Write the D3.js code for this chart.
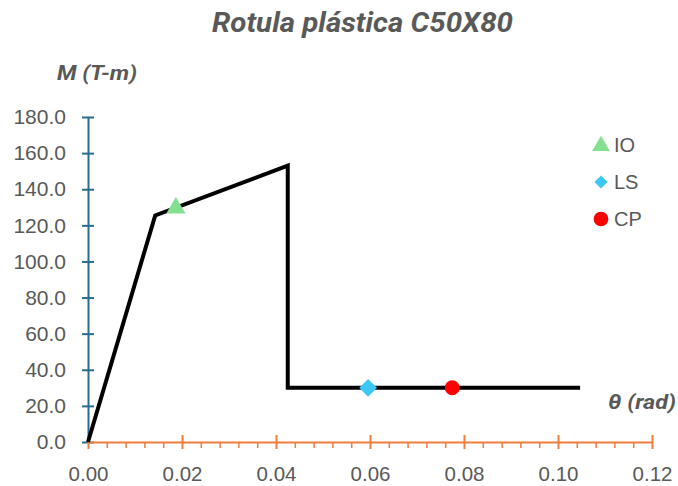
<!DOCTYPE html>
<html><head><meta charset="utf-8">
<script src="https://cdn.jsdelivr.net/npm/d3@7"></script>
<style>body{margin:0;background:#fff}svg{display:block}</style>
</head><body>
<svg id="c" width="678" height="486"></svg>
<script>
// Data
const curveTheta = [0, 0.0143, 0.0425, 0.0425, 0.1047];
const curveM     = [0, 125.5, 153.0, 30.0, 30.0];
const pointNames = ["IO", "LS", "CP"];
const pointTheta = [0.0187, 0.0596, 0.0775];
const pointM     = [129.6, 30.0, 30.0];
const xTicks = [0, 0.02, 0.04, 0.06, 0.08, 0.10, 0.12];
const yTicks = [0, 20, 40, 60, 80, 100, 120, 140, 160, 180];
const title = "Rotula plástica C50X80";
const yTitle = "M (T-m)";
const xTitle = "θ (rad)";

const svg = d3.select("#c");
const x = d3.scaleLinear().domain([0, 0.12]).range([88, 652]);
const y = d3.scaleLinear().domain([0, 180]).range([442, 117]);
const grey = "#595959";
const font = "'Liberation Sans', Arial, sans-serif";
const blue = "#2A6C8E", orange = "#EF7D3C";

// Title
svg.append("text").attr("x", 212).attr("y", 32)
  .attr("textLength", 301).attr("lengthAdjust", "spacingAndGlyphs")
  .style("font-family", "Roboto, sans-serif").style("font-weight", 700).style("font-style", "italic")
  .style("font-size", "28px").attr("fill", grey).text(title);
svg.append("text").attr("x", 57).attr("y", 80)
  .attr("textLength", 80).attr("lengthAdjust", "spacingAndGlyphs")
  .style("font-family", "Roboto, sans-serif").style("font-weight", 700).style("font-style", "italic")
  .style("font-size", "21px").attr("fill", grey).text(yTitle);
svg.append("text").attr("x", 608).attr("y", 409)
  .attr("textLength", 68).attr("lengthAdjust", "spacingAndGlyphs")
  .style("font-family", "Roboto, sans-serif").style("font-weight", 700).style("font-style", "italic")
  .style("font-size", "21px").attr("fill", grey).text(xTitle);

// Y axis
const yAx = svg.append("g").attr("transform", "translate(88,0)")
  .call(d3.axisLeft(y).tickValues(yTicks).tickFormat(d3.format(".1f")).tickSize(0).tickPadding(22));
yAx.select(".domain").attr("stroke", blue).attr("stroke-width", 2);
yAx.selectAll(".tick text").style("font-family", font).style("font-size", "21px").attr("fill", grey);
yAx.selectAll(".tick").append("line").attr("x1", -6).attr("x2", 6).attr("stroke", blue).attr("stroke-width", 2);

// X axis
const minor = d3.range(0, 0.1201, 0.004).filter(v => Math.abs(v / 0.02 - Math.round(v / 0.02)) > 1e-6);
const xMin = svg.append("g").attr("transform", "translate(0,442)")
  .call(d3.axisBottom(x).tickValues(minor).tickSize(6).tickFormat(""));
xMin.select(".domain").remove();
xMin.selectAll(".tick line").attr("stroke", orange).attr("stroke-width", 1.5);
const xAx = svg.append("g").attr("transform", "translate(0,442)")
  .call(d3.axisBottom(x).tickValues(xTicks).tickFormat(d3.format(".2f")).tickSize(0).tickPadding(24));
xAx.select(".domain").attr("stroke", orange).attr("stroke-width", 2);
xAx.selectAll(".tick text").style("font-family", font).style("font-size", "20.5px").attr("fill", grey);
xAx.selectAll(".tick").append("line").attr("y1", -7).attr("y2", 7).attr("stroke", orange).attr("stroke-width", 2);

// Curve
const pts = curveTheta.map((t, i) => [t, curveM[i]]);
svg.append("path").datum(pts)
  .attr("d", d3.line().x(d => x(d[0])).y(d => y(d[1])))
  .attr("fill", "none").attr("stroke", "#000").attr("stroke-width", 4).attr("stroke-linejoin", "miter");

// Markers
const sym = [d3.symbolTriangle, d3.symbolDiamond2, d3.symbolCircle];
const col = ["#84DF8F", "#3CC8F5", "#FF0000"];
const sz = [160, 200, 175];
pointNames.forEach((n, i) => {
  svg.append("path").attr("d", d3.symbol().type(sym[i]).size(sz[i])())
    .attr("transform", `translate(${x(pointTheta[i])},${y(pointM[i])})`).attr("fill", col[i]);
});

// Legend
const legY = [145, 182, 219];
const lsz = [135, 110, 170];
pointNames.forEach((n, i) => {
  svg.append("path").attr("d", d3.symbol().type(sym[i]).size(lsz[i])())
    .attr("transform", `translate(601,${legY[i] + (i === 0 ? 1 : 0)})`).attr("fill", col[i]);
  svg.append("text").attr("x", 614).attr("y", legY[i] + 7)
    .style("font-family", font).style("font-size", "20px").attr("fill", grey).text(n);
});
</script>
</body></html>
